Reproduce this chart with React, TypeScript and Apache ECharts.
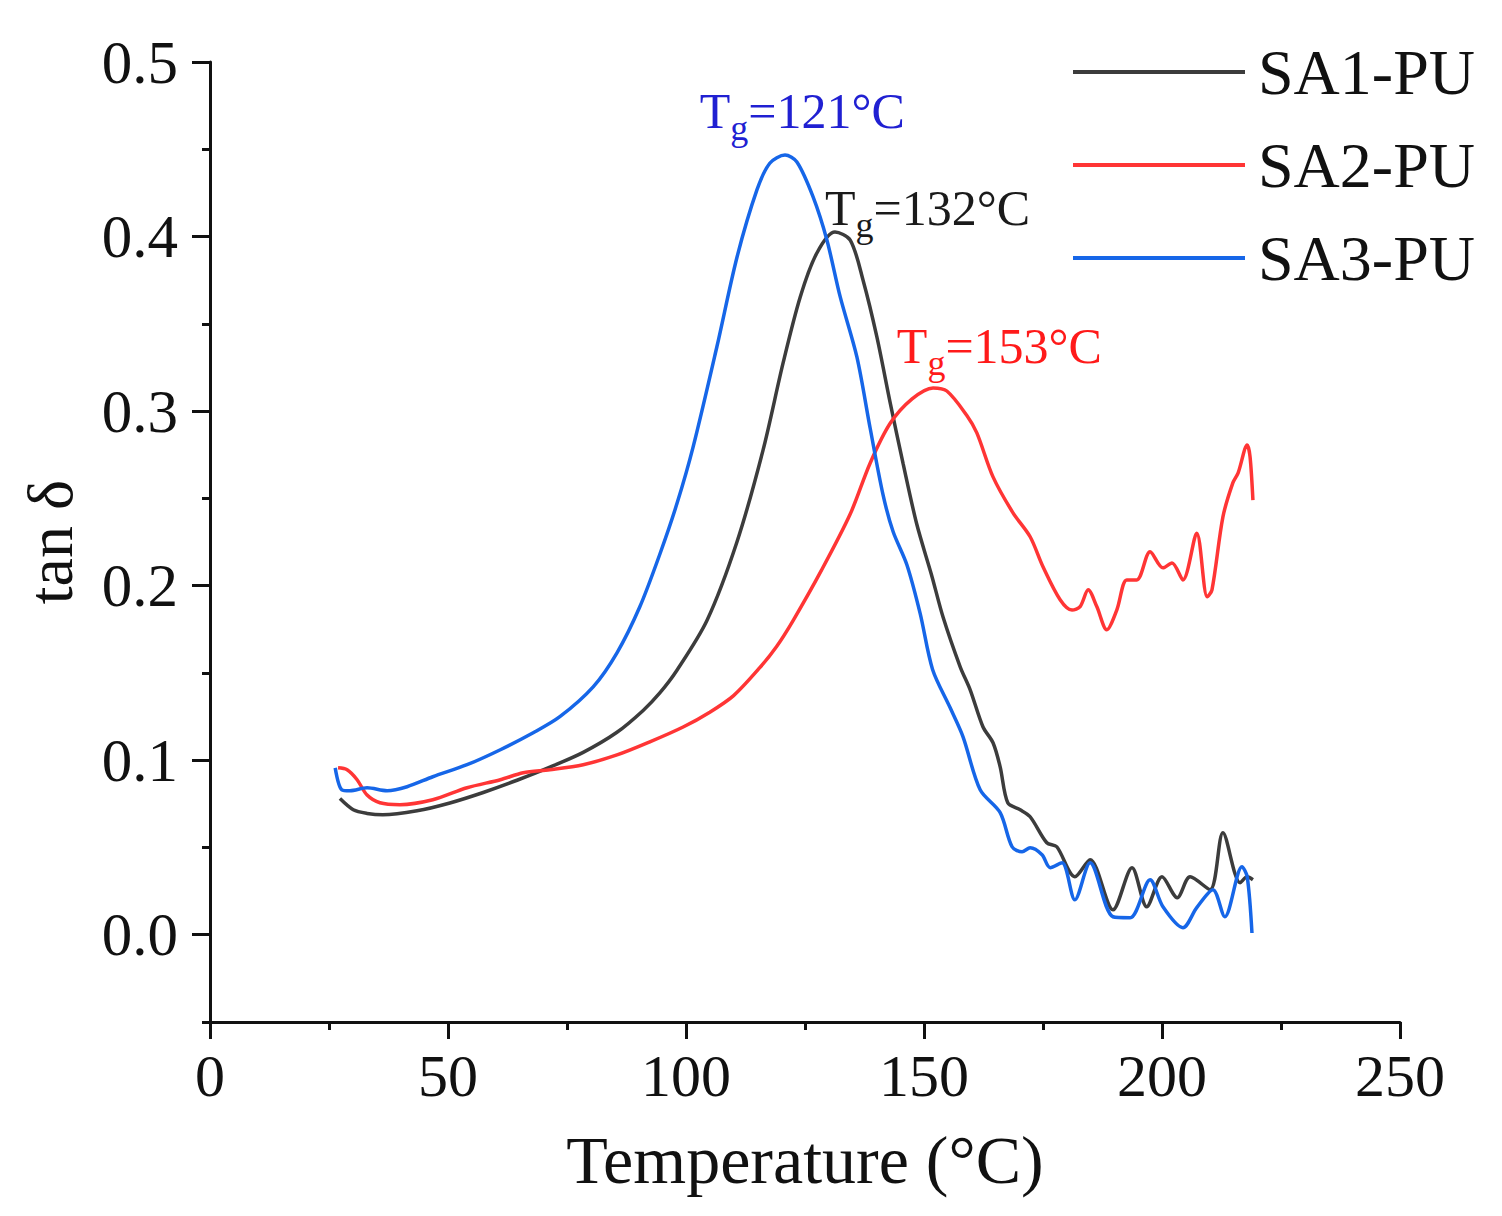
import { useEffect, useRef } from 'react';
import * as echarts from 'echarts';

type EChartsOption = echarts.EChartsOption;

const seriesNames = ['SA1-PU', 'SA2-PU', 'SA3-PU'];

const sa1Temp = [27.3, 30.1, 33, 36.3, 43.5, 50.4, 57.4, 64.5, 71.4, 78.4, 85.5, 91, 94.5, 98.1, 104.4, 110.7, 116.2, 120.4, 124, 127.5, 131.3, 134.5, 137.2, 140.1, 142.9, 145.6, 148.5, 151.6, 154, 157.6, 159.7, 162.4, 164.5, 166, 167.6, 170.2, 172.3, 175.8, 177.9, 181.7, 184.9, 189.7, 193.7, 196.8, 200, 203.2, 205.9, 210.1, 212.8, 216.4, 217.9, 219.1];
const sa1Tan = [0.078, 0.0716, 0.0695, 0.0687, 0.071, 0.0755, 0.0815, 0.0885, 0.096, 0.1045, 0.116, 0.1285, 0.1385, 0.1515, 0.18, 0.225, 0.2778, 0.3276, 0.3654, 0.3906, 0.4026, 0.398, 0.375, 0.3425, 0.3047, 0.27, 0.235, 0.206, 0.182, 0.1535, 0.1403, 0.119, 0.11, 0.0962, 0.0756, 0.0716, 0.0676, 0.0527, 0.0504, 0.0332, 0.043, 0.0143, 0.0384, 0.016, 0.0332, 0.0212, 0.0332, 0.0258, 0.0584, 0.0298, 0.0332, 0.0315];

const sa2Temp = [26.9, 28.8, 30.9, 33, 35.7, 39.9, 46.8, 54, 61, 65.8, 71.4, 78.4, 85.5, 92.4, 99.4, 105, 110, 115.5, 119, 122.5, 128.5, 134.5, 138.7, 142.9, 147.5, 151.9, 154.8, 159, 161.1, 164.5, 168.7, 172.3, 175, 178.6, 181.1, 182.8, 184.5, 186.3, 188.4, 190.5, 192.6, 194.7, 197.5, 200.2, 202.1, 204.4, 207.3, 209.5, 210.5, 212.8, 214.9, 216, 217.9, 218.5, 219.1];
const sa2Tan = [0.0956, 0.0945, 0.0888, 0.08, 0.0756, 0.0745, 0.0773, 0.0842, 0.0888, 0.0928, 0.0945, 0.0974, 0.103, 0.1105, 0.119, 0.1275, 0.137, 0.153, 0.165, 0.18, 0.209, 0.241, 0.2703, 0.293, 0.307, 0.3133, 0.3115, 0.2975, 0.2875, 0.2623, 0.2417, 0.228, 0.2108, 0.1919, 0.186, 0.188, 0.1976, 0.188, 0.1747, 0.186, 0.2033, 0.2033, 0.2194, 0.2102, 0.213, 0.2033, 0.23, 0.1936, 0.1976, 0.2394, 0.259, 0.2646, 0.2806, 0.2738, 0.249];

const sa3Temp = [26.3, 27.7, 29.4, 33, 37.2, 41.4, 46.8, 54, 61, 67.9, 73.5, 80.5, 85.5, 90.3, 94.5, 98.1, 101.5, 106.5, 110.7, 114.9, 117.6, 120.8, 123.3, 126.7, 129.6, 132.4, 135.9, 138.7, 141.4, 143.5, 146.4, 149.2, 151.8, 155.5, 158.2, 161.8, 166, 168.5, 170.6, 172.3, 174.8, 176.5, 179, 181.7, 184.9, 189.7, 193.3, 197.5, 200.2, 204.4, 207.3, 210.7, 213.2, 216.8, 217.9, 218.9];
const sa3Tan = [0.0956, 0.083, 0.0825, 0.0842, 0.0825, 0.0848, 0.0905, 0.0974, 0.106, 0.1157, 0.1249, 0.142, 0.1615, 0.1879, 0.218, 0.247, 0.2795, 0.337, 0.388, 0.4267, 0.442, 0.4467, 0.4427, 0.4227, 0.398, 0.3654, 0.331, 0.29, 0.252, 0.231, 0.212, 0.184, 0.152, 0.13, 0.1134, 0.083, 0.0699, 0.0504, 0.0475, 0.0498, 0.0458, 0.0384, 0.0412, 0.02, 0.0412, 0.0103, 0.0097, 0.0315, 0.016, 0.004, 0.0155, 0.0258, 0.0103, 0.039, 0.0332, 0.001];

// glass transition temperatures, per series
const tgValues = [132, 153, 121];

const yMajorTicks = [0, 0.1, 0.2, 0.3, 0.4, 0.5];
const yMinorTicks = [-0.05, 0.05, 0.15, 0.25, 0.35, 0.45];

// where each Tg label sits (data units, left edge / middle)
const tgAnchors = [
  [129.2, 0.4164],
  [144.3, 0.3373],
  [102.9, 0.4719],
];

const lineColors = ['#3c3c3c', '#ff3535', '#1666e8'];
const tgColors = ['#1a1a1a', '#ff1a1a', '#2020d2'];
const font = '"Liberation Serif", "DejaVu Serif", serif';

const zip = (xs: number[], ys: number[]) => xs.map((x, i) => [x, ys[i]]);

const App = () => {
  const chartRef = useRef<HTMLDivElement>(null);

  useEffect(() => {
    if (!chartRef.current) return;
    const myChart = echarts.init(chartRef.current, null, { renderer: 'svg' });

    const data = [zip(sa1Temp, sa1Tan), zip(sa2Temp, sa2Tan), zip(sa3Temp, sa3Tan)];

    const option: EChartsOption = {
      animation: false,
      backgroundColor: '#fff',
      grid: { left: 210, right: 102, top: 62, bottom: 194 },
      legend: {
        orient: 'vertical',
        left: 1073,
        top: 40,
        padding: 0,
        icon: 'rect',
        itemWidth: 172,
        itemHeight: 4,
        itemGap: 29,
        data: seriesNames,
        textStyle: { fontFamily: font, fontSize: 64, color: '#111', padding: [0, 0, 0, 8] },
      },
      xAxis: {
        type: 'value',
        min: 0,
        max: 250,
        interval: 50,
        name: 'Temperature (°C)',
        nameLocation: 'middle',
        nameGap: 104,
        nameTextStyle: { fontFamily: font, fontSize: 68, color: '#111' },
        axisLine: { onZero: false, lineStyle: { color: '#111', width: 3 } },
        axisTick: { length: 17, lineStyle: { color: '#111', width: 3 } },
        minorTick: { show: true, splitNumber: 2, length: 8, lineStyle: { color: '#111', width: 3 } },
        axisLabel: { fontFamily: font, fontSize: 60, color: '#111', margin: 24 },
        splitLine: { show: false },
      },
      yAxis: [
        {
          type: 'value',
          min: -0.05,
          max: 0.5,
          name: 'tan δ',
          nameLocation: 'middle',
          nameGap: 128,
          nameTextStyle: { fontFamily: font, fontSize: 64, color: '#111' },
          axisLine: { onZero: false, lineStyle: { color: '#111', width: 3 } },
          axisTick: { length: 18, customValues: yMajorTicks, lineStyle: { color: '#111', width: 3 } },
          axisLabel: {
            customValues: yMajorTicks,
            fontFamily: font,
            fontSize: 61,
            color: '#111',
            margin: 32,
            formatter: (v: number) => v.toFixed(1),
          },
          splitLine: { show: false },
        },
        {
          type: 'value',
          min: -0.05,
          max: 0.5,
          position: 'left',
          axisLine: { show: false },
          axisTick: { length: 8, customValues: yMinorTicks, lineStyle: { color: '#111', width: 3 } },
          axisLabel: { show: false },
          splitLine: { show: false },
        },
      ],
      series: seriesNames.map((name, i) => ({
        name,
        type: 'line',
        data: data[i],
        symbol: 'none',
        smooth: 0.3,
        yAxisIndex: 0,
        color: lineColors[i],
        lineStyle: { color: lineColors[i], width: 3.5 },
        markPoint: {
          symbol: 'circle',
          symbolSize: 0,
          silent: true,
          data: [{ coord: tgAnchors[i] }],
          label: {
            show: true,
            position: 'right',
            distance: 0,
            formatter: `{m|T}{s|g}{m|=${tgValues[i]}°C}`,
            rich: {
              m: { fontFamily: font, fontSize: 50, color: tgColors[i] },
              s: { fontFamily: font, fontSize: 36, color: tgColors[i], padding: [34, 0, 0, 0] },
            },
          },
        },
      })),
    };

    myChart.setOption(option);

    return () => {
      myChart.dispose();
    };
  }, []);

  return <div ref={chartRef} style={{ position: 'absolute', left: 0, top: 0, width: '1502px', height: '1216px' }} />;
};

export default App;
